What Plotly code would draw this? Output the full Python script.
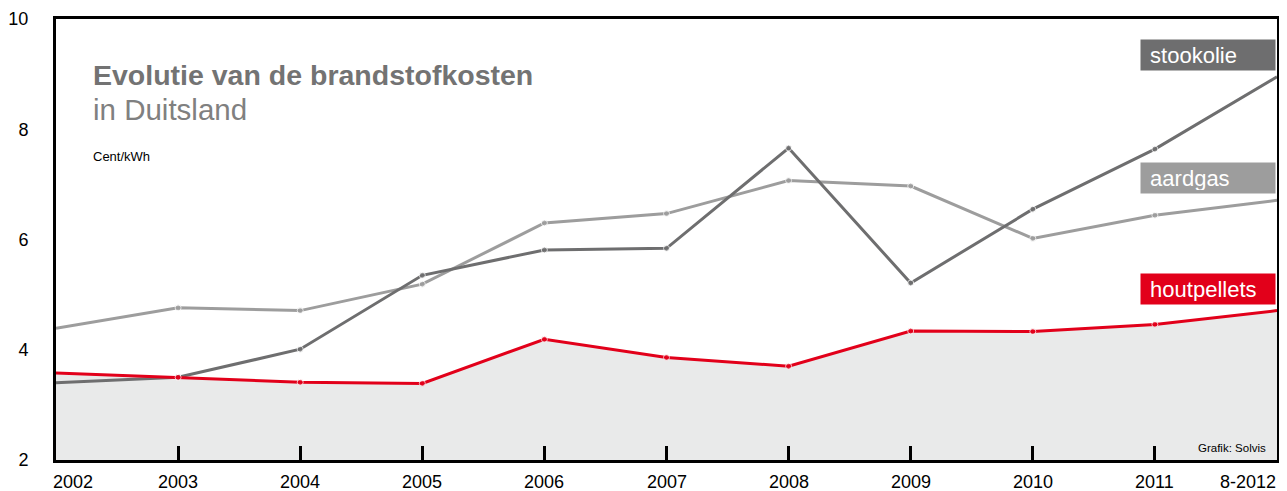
import plotly.graph_objects as go

# ---- data ----
years = [2002, 2003, 2004, 2005, 2006, 2007, 2008, 2009, 2010, 2011, 2012]
year_labels = ["2002", "2003", "2004", "2005", "2006", "2007", "2008", "2009", "2010", "2011", "8-2012"]
stookolie = [3.40, 3.50, 4.01, 5.35, 5.81, 5.84, 7.66, 5.21, 6.55, 7.64, 8.95]
aardgas = [4.39, 4.76, 4.71, 5.19, 6.30, 6.47, 7.07, 6.97, 6.02, 6.44, 6.71]
houtpellets = [3.58, 3.50, 3.41, 3.39, 4.19, 3.86, 3.70, 4.34, 4.33, 4.46, 4.71]
y_ticks = [2, 4, 6, 8, 10]

# ---- styles ----
C_DARK = "#6e6e6f"
C_LIGHT = "#9d9d9d"
C_RED = "#e2001a"
C_FILL = "#e9eaea"
FONT = "Liberation Sans"

msize = [0] + [6] * (len(years) - 2) + [0]

fig = go.Figure()
fig.add_trace(go.Scatter(x=years, y=houtpellets, mode="lines", line=dict(width=0, color=C_RED),
                         fill="tozeroy", fillcolor=C_FILL, hoverinfo="skip", showlegend=False))
fig.add_trace(go.Scatter(x=years, y=aardgas, mode="lines+markers", name="aardgas",
                         line=dict(color=C_LIGHT, width=3), marker=dict(size=msize, color=C_LIGHT),
                         showlegend=False))
fig.add_trace(go.Scatter(x=years, y=stookolie, mode="lines+markers", name="stookolie",
                         line=dict(color=C_DARK, width=3), marker=dict(size=msize, color=C_DARK),
                         showlegend=False))
fig.add_trace(go.Scatter(x=years, y=houtpellets, mode="lines+markers", name="houtpellets",
                         line=dict(color=C_RED, width=3), marker=dict(size=msize, color=C_RED),
                         showlegend=False))

# page body has an 8px margin, so the figure is sized/offset to compensate
fig.update_layout(
    width=1279, height=483,
    margin=dict(l=48, r=10, t=11, b=31, autoexpand=False),
    paper_bgcolor="white", plot_bgcolor="white",
    font=dict(family=FONT, color="black"),
    xaxis=dict(range=[years[0], years[-1]], showgrid=False, zeroline=False, automargin=False,
               showline=True, mirror=True, linecolor="black", linewidth=3,
               tickvals=years[1:-1], ticks="inside", ticklen=14, tickwidth=2.5,
               tickcolor="black", showticklabels=False),
    yaxis=dict(range=[y_ticks[0], y_ticks[-1]], showgrid=False, zeroline=False, automargin=False,
               showline=True, mirror=True, linecolor="black", linewidth=3,
               tickvals=y_ticks, ticktext=[str(v) for v in y_ticks], ticks="",
               ticklabelstandoff=21, tickfont=dict(size=18, color="black")),
)

# y tick marks (not at bottom value)
for v in y_ticks[1:]:
    fig.add_shape(type="line", xref="x", yref="y", xsizemode="pixel", xanchor=years[0],
                  x0=-21, x1=0, y0=v, y1=v, line=dict(color="black", width=2.5))

# x tick labels
for i, (yr, lab) in enumerate(zip(years, year_labels)):
    if i == 0:
        anchor, shift = "left", -4
    elif i == len(years) - 1:
        anchor, shift = "right", 0
    else:
        anchor, shift = "center", 0
    fig.add_annotation(x=yr, y=0, xref="x", yref="paper", text=lab, showarrow=False,
                       xanchor=anchor, yanchor="middle", xshift=shift, yshift=-22, borderpad=0,
                       font=dict(size=18, color="black"))

# titles
fig.add_annotation(x=0.029, y=0.874, xref="paper", yref="paper", text="<b>Evolutie van de brandstofkosten</b>",
                   showarrow=False, xanchor="left", yanchor="middle", font=dict(size=28.5, color="#737373"))
fig.add_annotation(x=0.029, y=0.795, xref="paper", yref="paper", text="in Duitsland",
                   showarrow=False, xanchor="left", yanchor="middle", font=dict(size=29.5, color="#808080"))
fig.add_annotation(x=0.029, y=0.688, xref="paper", yref="paper", text="Cent/kWh",
                   showarrow=False, xanchor="left", yanchor="middle", font=dict(size=13, color="black"))
fig.add_annotation(x=1, y=0, xref="paper", yref="paper", text="Grafik: Solvis",
                   showarrow=False, xanchor="right", yanchor="bottom", xshift=-9, yshift=4,
                   font=dict(size=11.5, color="black"))

# series label boxes
labels = [("stookolie", 9.35, C_DARK), ("aardgas", 7.11, C_LIGHT), ("houtpellets", 5.11, C_RED)]
for text, yv, col in labels:
    fig.add_annotation(x=years[-1], y=yv, xref="x", yref="y", text="&nbsp;" + text, showarrow=False,
                       xanchor="right", yanchor="middle", align="left", xshift=-1,
                       width=128, height=24, borderpad=3, bgcolor=col,
                       font=dict(size=22, color="white"))

fig.write_html("out.html")
